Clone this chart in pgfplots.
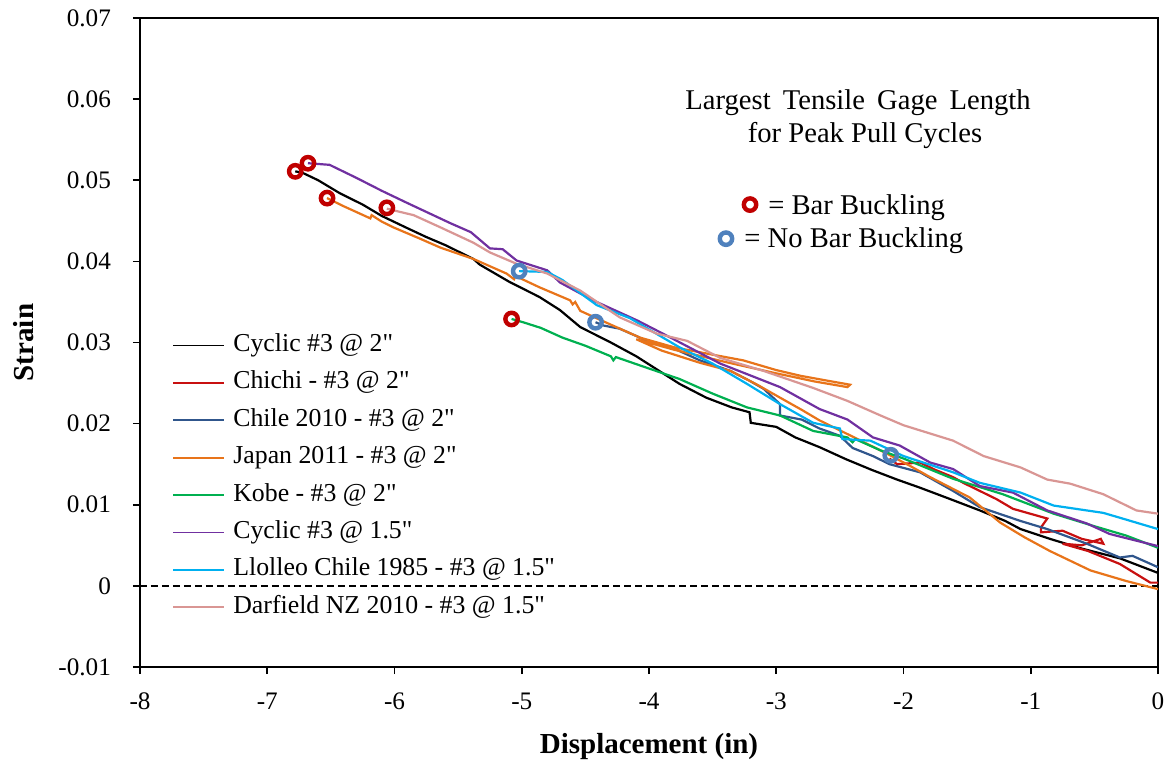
\documentclass[border=0pt]{standalone}
\usepackage{fontspec}
\setmainfont{Liberation Serif}[Ligatures=TeXOff]
\usepackage{pgfplots}
\pgfplotsset{compat=1.18}
\definecolor{cred}{RGB}{200,16,16}
\definecolor{cdblue}{RGB}{48,86,140}
\definecolor{corange}{RGB}{232,116,26}
\definecolor{cgreen}{RGB}{0,176,80}
\definecolor{cpurple}{RGB}{112,48,160}
\definecolor{clblue}{RGB}{0,176,240}
\definecolor{cpink}{RGB}{217,150,148}
\definecolor{mred}{RGB}{192,0,0}
\definecolor{mblue}{RGB}{79,129,189}
\begin{document}
\begin{tikzpicture}
\begin{axis}[
 at={(0,0)}, anchor=south west,
 scale only axis, width=509pt, height=324.5pt,
 xmin=-8, xmax=0, ymin=-0.01, ymax=0.07,
 scaled x ticks=false, scaled y ticks=false,
 xtick={-8,-7,-6,-5,-4,-3,-2,-1,0},
 xticklabels={-8,-7,-6,-5,-4,-3,-2,-1,0},
 ytick={-0.01,0,0.01,0.02,0.03,0.04,0.05,0.06,0.07},
 yticklabels={-0.01,0,0.01,0.02,0.03,0.04,0.05,0.06,0.07},
 tick align=outside, xtick pos=left, ytick pos=left, major tick length=3.5pt,
 axis line style={line width=0.9pt}, tick style={black, line width=0.8pt},
 ticklabel style={font=\fontsize{12.6}{15}\selectfont},
 yticklabel style={xshift=-7.5pt, inner ysep=0.5pt},
 xticklabel style={yshift=-6pt},
 xlabel={Displacement (in)}, ylabel={Strain},
 label style={font=\fontsize{14.5}{17}\selectfont\bfseries},
 xlabel style={at={(axis description cs:0.5,-0.122)}, anchor=center},
 ylabel style={at={(axis description cs:-0.114,0.5)}, anchor=center},
 legend style={draw=none, fill=none, at={(axis description cs:0.0314,0.5146)}, anchor=north west,
   font=\fontsize{12.9}{15}\selectfont, row sep=6.7pt, inner sep=0pt,
   nodes={inner xsep=1.5pt, inner ysep=0pt, text height=9pt, text depth=3pt}},
 legend cell align=left,
 legend image code/.code={\draw[#1, line width=0.9pt] (0pt,0pt) -- (25.5pt,0pt); \path (28pt,0pt);},
]
\addplot[black, dashed, line width=0.8pt, dash pattern=on 3.5pt off 2pt, forget plot] coordinates {(-8,0) (0,0)};

\addplot[black, line width=1.1pt] coordinates {
(-6.78,0.0511) (-6.72,0.0509) (-6.60,0.0500) (-6.43,0.0484) (-6.25,0.0470) (-6.10,0.0456) (-5.90,0.0441) (-5.75,0.0430) (-5.60,0.0420) (-5.38,0.0403) (-5.33,0.0396) (-5.10,0.0375) (-4.86,0.0356) (-4.70,0.0340) (-4.54,0.0319) (-4.30,0.0300) (-4.10,0.0283) (-3.95,0.0268) (-3.76,0.0249) (-3.55,0.0232) (-3.35,0.0220) (-3.21,0.0214) (-3.20,0.0201) (-3.00,0.0196) (-2.85,0.0183) (-2.66,0.0171) (-2.45,0.0156) (-2.25,0.0143) (-2.05,0.0131) (-1.87,0.0121) (-1.65,0.0108) (-1.40,0.0093) (-1.20,0.0080) (-1.08,0.0070) (-0.85,0.0058) (-0.60,0.0046) (-0.30,0.0034) (-0.10,0.0022) (0,0.0016)};
\addlegendentry{Cyclic \#3 @ 2"}

\addplot[cred, line width=1.1pt] coordinates {
(-2.11,0.0157) (-2.05,0.0150) (-1.87,0.0152) (-1.75,0.0143) (-1.61,0.0134) (-1.53,0.0127) (-1.27,0.0107) (-1.14,0.0095) (-0.87,0.0083) (-0.92,0.0072) (-0.92,0.0066) (-0.75,0.0068) (-0.60,0.0058) (-0.43,0.0052) (-0.45,0.0058) (-0.60,0.0050) (-0.75,0.0052) (-0.55,0.0043) (-0.30,0.0027) (-0.06,0.0004) (0,0.0004)};
\addlegendentry{Chichi - \#3 @ 2"}

\addplot[cdblue, line width=1.1pt] coordinates {
(-4.42,0.0325) (-4.36,0.0321) (-4.23,0.0317) (-4.10,0.0308) (-4.02,0.0302) (-3.81,0.0293) (-3.60,0.0278) (-3.36,0.0265) (-3.20,0.0252) (-3.10,0.0243) (-2.97,0.0224) (-2.97,0.0210) (-2.80,0.0205) (-2.66,0.0194) (-2.50,0.0185) (-2.40,0.0170) (-2.24,0.0160) (-2.11,0.0150) (-1.87,0.0140) (-1.61,0.0117) (-1.40,0.0097) (-1.08,0.0080) (-0.87,0.0070) (-0.56,0.0052) (-0.30,0.0035) (-0.20,0.0037) (-0.10,0.0030) (0,0.0023)};
\addlegendentry{Chile 2010 - \#3 @ 2"}

\addplot[corange, line width=1.1pt] coordinates {
(-6.53,0.0478) (-6.40,0.0468) (-6.19,0.0453) (-6.18,0.0457) (-6.10,0.0449) (-6.01,0.0442) (-5.80,0.0428) (-5.64,0.0417) (-5.38,0.0403) (-5.12,0.0385) (-5.06,0.0378) (-5.05,0.0382) (-4.86,0.0368) (-4.80,0.0364) (-4.62,0.0352) (-4.60,0.0347) (-4.58,0.0350) (-4.54,0.0339) (-4.30,0.0322) (-4.07,0.0306) (-3.80,0.0294) (-3.50,0.0285) (-3.26,0.0278) (-3.00,0.0266) (-2.81,0.0259) (-2.60,0.0253) (-2.42,0.0248) (-2.44,0.0245) (-2.70,0.0252) (-3.00,0.0262) (-3.40,0.0276) (-3.80,0.0291) (-4.10,0.0304) (-3.90,0.0290) (-3.60,0.0275) (-3.36,0.0265) (-3.15,0.0248) (-2.97,0.0232) (-2.80,0.0217) (-2.66,0.0204) (-2.40,0.0184) (-2.13,0.0163) (-1.95,0.0148) (-1.79,0.0134) (-1.48,0.0109) (-1.24,0.0078) (-1.05,0.0060) (-0.85,0.0043) (-0.53,0.0019) (-0.25,0.0006) (0,-0.0004)};
\addlegendentry{Japan 2011 - \#3 @ 2"}

\addplot[cgreen, line width=1.1pt] coordinates {
(-5.08,0.0329) (-4.99,0.0325) (-4.85,0.0318) (-4.68,0.0306) (-4.50,0.0296) (-4.30,0.0283) (-4.28,0.0278) (-4.26,0.0282) (-4.02,0.0269) (-3.76,0.0255) (-3.50,0.0237) (-3.23,0.0220) (-2.97,0.0210) (-2.71,0.0191) (-2.44,0.0183) (-2.40,0.0177) (-2.38,0.0181) (-2.18,0.0167) (-2.00,0.0157) (-1.61,0.0132) (-1.22,0.0113) (-0.82,0.0089) (-0.51,0.0074) (-0.25,0.0062) (0,0.0047)};
\addlegendentry{Kobe - \#3 @ 2"}

\addplot[cpurple, line width=1.1pt] coordinates {
(-6.68,0.0521) (-6.51,0.0519) (-6.30,0.0503) (-6.10,0.0487) (-5.90,0.0472) (-5.56,0.0447) (-5.40,0.0436) (-5.25,0.0416) (-5.15,0.0415) (-5.04,0.0401) (-4.80,0.0389) (-4.70,0.0374) (-4.44,0.0352) (-4.09,0.0327) (-3.83,0.0306) (-3.44,0.0274) (-2.97,0.0245) (-2.66,0.0218) (-2.44,0.0205) (-2.24,0.0183) (-2.03,0.0173) (-1.79,0.0152) (-1.61,0.0144) (-1.40,0.0123) (-1.14,0.0115) (-0.87,0.0093) (-0.56,0.0077) (-0.38,0.0064) (0,0.0049)};
\addlegendentry{Cyclic \#3 @ 1.5"}

\addplot[clblue, line width=1.1pt] coordinates {
(-5.02,0.0388) (-4.80,0.0387) (-4.68,0.0377) (-4.41,0.0346) (-4.15,0.0330) (-3.76,0.0294) (-3.50,0.0274) (-3.23,0.0249) (-2.97,0.0224) (-2.71,0.0201) (-2.50,0.0194) (-2.48,0.0181) (-2.26,0.0179) (-2.00,0.0160) (-1.61,0.0140) (-1.40,0.0127) (-1.08,0.0115) (-0.82,0.0099) (-0.43,0.0090) (-0.30,0.0084) (0,0.0070)};
\addlegendentry{Llolleo Chile 1985 - \#3 @ 1.5"}

\addplot[cpink, line width=1.1pt] coordinates {
(-6.06,0.0465) (-6.01,0.0463) (-5.85,0.0457) (-5.64,0.0442) (-5.38,0.0423) (-5.25,0.0411) (-5.04,0.0397) (-4.80,0.0385) (-4.54,0.0364) (-4.23,0.0331) (-3.94,0.0311) (-3.70,0.0302) (-3.44,0.0281) (-3.10,0.0265) (-2.71,0.0244) (-2.44,0.0228) (-2.18,0.0210) (-2.00,0.0198) (-1.61,0.0179) (-1.37,0.0160) (-1.08,0.0146) (-0.87,0.0131) (-0.69,0.0126) (-0.43,0.0113) (-0.17,0.0093) (0,0.0089)};
\addlegendentry{Darfield NZ 2010 - \#3 @ 1.5"}

\addplot[only marks, mark=o, mark size=3.1pt, mark options={line width=2.2pt, draw=mred}, forget plot] coordinates {
(-6.78,0.0511) (-6.68,0.0521) (-6.53,0.0478) (-6.06,0.0466) (-5.08,0.0329) (-3.206,0.0470)};
\addplot[only marks, mark=o, mark size=3.1pt, mark options={line width=2.2pt, draw=mblue}, forget plot] coordinates {
(-5.02,0.0388) (-4.42,0.0325) (-2.10,0.0161) (-3.395,0.0428)};

\node[anchor=base, inner sep=0pt, font=\fontsize{14.3}{16.5}\selectfont] at (axis cs:-2.357,0.0587) {Largest\hspace{2.5pt} Tensile\hspace{2.5pt} Gage\hspace{2.5pt} Length};
\node[anchor=base, inner sep=0pt, font=\fontsize{14.3}{16.5}\selectfont] at (axis cs:-2.302,0.05463) {for Peak Pull Cycles};
\node[anchor=base west, inner sep=0pt, font=\fontsize{14.3}{16.5}\selectfont] at (axis cs:-3.065,0.04574) {= Bar Buckling};
\node[anchor=base west, inner sep=0pt, font=\fontsize{14.3}{16.5}\selectfont] at (axis cs:-3.253,0.04167) {= No Bar Buckling};
\end{axis}
\pgfresetboundingbox
\path[use as bounding box] (-70pt,-47pt) rectangle (515.5pt,333.5pt);
\end{tikzpicture}
\end{document}
